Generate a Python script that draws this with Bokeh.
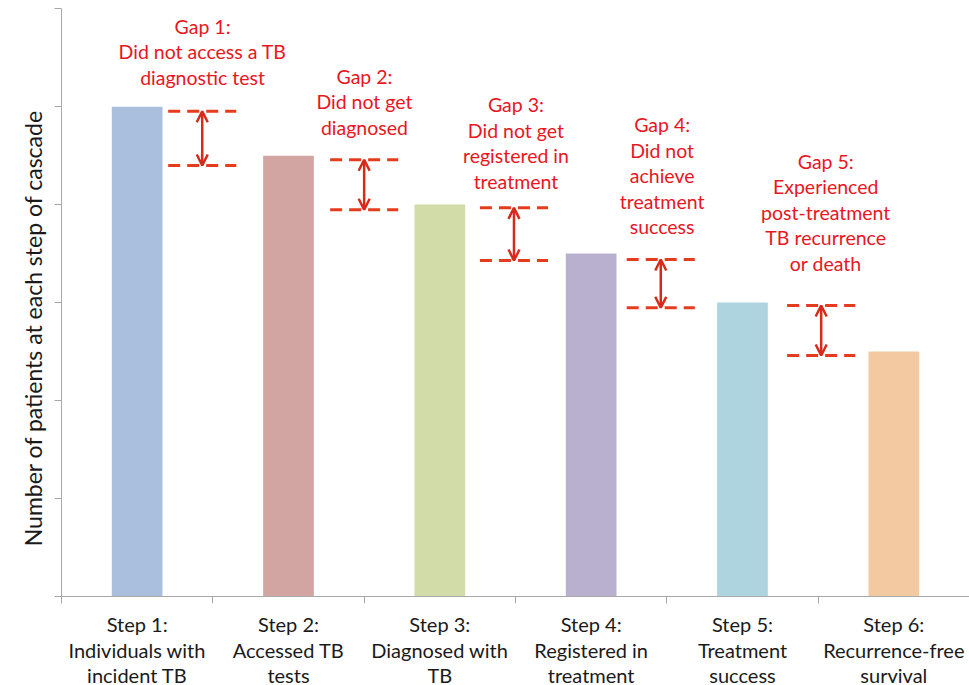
import numpy as np
from bokeh.plotting import figure
from bokeh.models import (Range1d, FixedTicker, LabelSet, Label, ColumnDataSource,
                          Arrow, OpenHead)
from bokeh.core.properties import value
from bokeh.embed import file_html
from bokeh.resources import INLINE

# ---------------- data ----------------
step_labels = [
    ["Step 1:", "Individuals with", "incident TB"],
    ["Step 2:", "Accessed TB", "tests"],
    ["Step 3:", "Diagnosed with", "TB"],
    ["Step 4:", "Registered in", "treatment"],
    ["Step 5:", "Treatment", "success"],
    ["Step 6:", "Recurrence-free", "survival"],
]
step_values = [5.0, 4.5, 4.0, 3.5, 3.0, 2.5]
bar_colors = ["#aabfdd", "#d2a5a2", "#d2dca9", "#b9afcf", "#add4df", "#f2c9a0"]

gap_labels = [
    ["Gap 1:", "Did not access a TB", "diagnostic test"],
    ["Gap 2:", "Did not get", "diagnosed"],
    ["Gap 3:", "Did not get", "registered in", "treatment"],
    ["Gap 4:", "Did not", "achieve", "treatment", "success"],
    ["Gap 5:", "Experienced", "post-treatment", "TB recurrence", "or death"],
]
gap_text_x = [0.932, 2.002, 3.003, 3.969, 5.050]
gap_text_y = [5.745, 5.234, 4.944, 4.740, 4.366]   # baseline of first line
gap_x = [0.93, 2.0, 2.99, 3.96, 5.02]
gap_top = [4.954, 4.458, 3.967, 3.439, 2.969]
gap_bottom = [4.399, 3.947, 3.429, 2.946, 2.459]

y_title = "Number of patients at each step of cascade"
y_ticks = [0, 1, 2, 3, 4, 5, 6]
x_ticks = [0, 1, 2, 3, 4, 5, 6]

FONT = "Lato"
RED_TEXT = "#e8161e"
RED_DASH = "#e63c1e"
RED_ARROW = "#d62a1a"
AXIS_COL = "#a8a8a8"

# ---------------- figure ----------------
PX_X = 151.33
PX_Y = 97.9
X0, Y0 = 61.0, 595.7   # pixel position of data origin
W, H = 969, 685
p = figure(width=W, height=H,
           x_range=Range1d(-X0 / PX_X, (W - X0) / PX_X),
           y_range=Range1d(-(H - Y0) / PX_Y, Y0 / PX_Y),
           output_backend="svg", toolbar_location=None,
           min_border_left=0, min_border_right=0, min_border_top=0, min_border_bottom=0)
p.outline_line_color = None
p.xgrid.visible = False
p.ygrid.visible = False
p.background_fill_color = "white"
p.border_fill_color = "white"

for ax, ticks in ((p.xaxis[0], x_ticks), (p.yaxis[0], y_ticks)):
    ax.ticker = FixedTicker(ticks=ticks)
    ax.fixed_location = 0
    ax.bounds = (0, 6)
    ax.major_label_overrides = {t: "" for t in ticks}
    ax.major_label_text_font_size = "0px"
    ax.minor_tick_line_color = None
    ax.major_tick_in = 0
    ax.major_tick_out = 7
    ax.axis_line_color = AXIS_COL
    ax.major_tick_line_color = AXIS_COL
    ax.axis_line_width = 1
    ax.major_tick_line_width = 1

centers = np.arange(len(step_values)) + 0.5
p.vbar(x=centers, top=step_values, width=0.335, bottom=0,
       fill_color=bar_colors, line_color=None)

# step labels
sx, sy, so, st = [], [], [], []
step_offsets = [-36, -61.3, -86.3]
for i, lines in enumerate(step_labels):
    for k, t in enumerate(lines):
        sx.append(centers[i]); sy.append(0); so.append(step_offsets[k]); st.append(t)
p.add_layout(LabelSet(source=ColumnDataSource(dict(x=sx, y=sy, o=so, t=st)),
                      x="x", y="y", y_offset="o", text="t",
                      text_align="center", text_baseline="alphabetic",
                      text_font=value(FONT), text_font_size="20px", text_color="#1a1a1a"))

# gap labels
gx, gy, go, gt = [], [], [], []
for i, lines in enumerate(gap_labels):
    for k, t in enumerate(lines):
        gx.append(gap_text_x[i]); gy.append(gap_text_y[i]); go.append(-25.5 * k); gt.append(t)
p.add_layout(LabelSet(source=ColumnDataSource(dict(x=gx, y=gy, o=go, t=gt)),
                      x="x", y="y", y_offset="o", text="t",
                      text_align="center", text_baseline="alphabetic",
                      text_font=value(FONT), text_font_size="19.5px", text_color=RED_TEXT))

# dashed gap lines
gxa = np.array(gap_x)
for ys in (gap_top, gap_bottom):
    p.segment(x0=gxa - 0.225, x1=gxa + 0.225, y0=ys, y1=ys,
              line_color=RED_DASH, line_width=3, line_dash="12 7")

# double arrows
asrc = ColumnDataSource(dict(x=gap_x, y0=gap_top, y1=gap_bottom))
p.add_layout(Arrow(source=asrc, x_start="x", x_end="x", y_start="y0", y_end="y1",
                   line_color=RED_ARROW, line_width=2.5,
                   start=OpenHead(size=11, line_color=RED_ARROW, line_width=2.5),
                   end=OpenHead(size=11, line_color=RED_ARROW, line_width=2.5)))

# y title
p.add_layout(Label(x=-0.19, y=2.74, text=y_title, angle=np.pi / 2,
                   text_align="center", text_baseline="middle",
                   text_font=FONT, text_font_size="23px", text_color="#1a1a1a"))

open("out.html", "w").write(file_html(p, INLINE))
